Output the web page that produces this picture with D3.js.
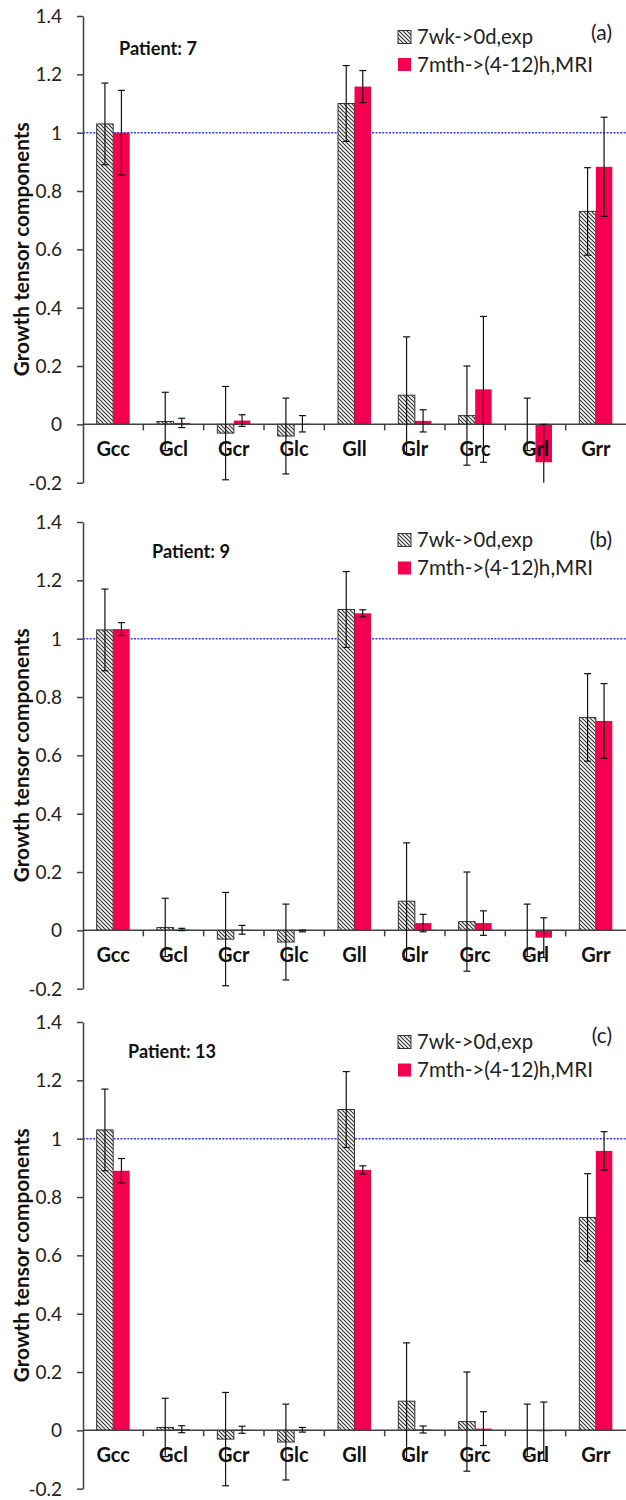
<!DOCTYPE html>
<html><head><meta charset="utf-8">
<script src="https://cdn.jsdelivr.net/npm/d3@7"></script>
<style>body{margin:0;background:#fff}svg{display:block}</style>
</head><body>
<svg id="chart" width="626" height="1500"></svg>
<script>
// ---------- data ----------
const categories = ["Gcc","Gcl","Gcr","Glc","Gll","Glr","Grc","Grl","Grr"];
const seriesNames = ["7wk->0d,exp","7mth->(4-12)h,MRI"];
const expValues = [1.03, 0.01, -0.03, -0.04, 1.10, 0.10, 0.03, 0.0, 0.73];
const expErrors = [0.14, 0.10, 0.16, 0.13, 0.13, 0.20, 0.17, 0.09, 0.15];
const mriValuesA = [1.00, 0.005, 0.013, 0.002, 1.158, 0.012, 0.12, -0.13, 0.883];
const mriErrorsA = [0.145, 0.016, 0.02, 0.028, 0.055, 0.038, 0.25, 0.13, 0.17];
const mriValuesB = [1.033, 0.003, 0.002, -0.002, 1.087, 0.025, 0.025, -0.025, 0.718];
const mriErrorsB = [0.022, 0.004, 0.015, 0.003, 0.012, 0.03, 0.042, 0.068, 0.128];
const mriValuesC = [0.89, 0.004, 0.002, 0.002, 0.893, 0.003, 0.006, -0.003, 0.958];
const mriErrorsC = [0.042, 0.012, 0.012, 0.008, 0.014, 0.012, 0.058, 0.10, 0.066];
const panelTags = ["(a)","(b)","(c)"];
const patientLabels = ["Patient: 7","Patient: 9","Patient: 13"];
const yTickValues = [-0.2, 0, 0.2, 0.4, 0.6, 0.8, 1, 1.2, 1.4];
const yTickLabels = ["-0.2","0","0.2","0.4","0.6","0.8","1","1.2","1.4"];
const referenceValue = 1;
const yTitle = "Growth tensor components";

// ---------- layout ----------
const plotLeft = 83, plotRight = 626, plotH = 466.7;
const panels = [
  {top: 16,   mri: mriValuesA, mriErr: mriErrorsA, patX: 119, patY: 49,   legY: [37, 64.5], tagY: 33},
  {top: 522,  mri: mriValuesB, mriErr: mriErrorsB, patX: 152, patY: 552,  legY: [540, 568], tagY: 540},
  {top: 1022, mri: mriValuesC, mriErr: mriErrorsC, patX: 128, patY: 1052, legY: [1042, 1070], tagY: 1036}
];
const pink = "#f2004f";
const axisColor = "#404040";
const font = "Lato, 'Open Sans', sans-serif";

const svg = d3.select("#chart");
const defs = svg.append("defs");
const pat = defs.append("pattern").attr("id","hatch").attr("patternUnits","userSpaceOnUse")
  .attr("width",4).attr("height",4);
pat.append("rect").attr("width",4).attr("height",4).attr("fill","#fff");
pat.append("path").attr("d","M-1,-1L5,5M-1,3L1,5M3,-1L5,1")
  .attr("stroke","#333").attr("stroke-width",1.15);

function fitWidth(sel, target) {
  const node = sel.node();
  const fs = parseFloat(sel.attr("font-size"));
  const w = node.getComputedTextLength();
  if (w > 0) sel.attr("font-size", (fs * target / w).toFixed(2));
  return sel;
}

const x = d3.scaleBand().domain(categories).range([plotLeft, plotRight]).padding(0);
const bw = 16.5;

panels.forEach((p, pi) => {
  const g = svg.append("g");
  const y = d3.scaleLinear().domain([-0.2, 1.4]).range([p.top + plotH, p.top]);
  const y0 = y(0);

  // y axis
  const yAxis = d3.axisLeft(y).tickValues(yTickValues)
    .tickFormat((d, i) => yTickLabels[i]).tickSize(6).tickSizeOuter(0);
  const ya = g.append("g").attr("transform", `translate(${plotLeft},0)`).call(yAxis);
  ya.select(".domain").attr("stroke", axisColor).attr("stroke-width", 1.5);
  ya.selectAll(".tick line").attr("stroke", axisColor).attr("stroke-width", 1.5);
  ya.selectAll(".tick text").attr("font-family", font).attr("font-size", 19)
    .attr("fill", "#222").attr("x", -21).attr("dy", "0.34em");

  // y title
  const tt = g.append("text").attr("transform", `translate(22,${(y(-0.2)+y(1.4))/2}) rotate(-90)`)
    .attr("text-anchor","middle").attr("dy","0.35em").attr("font-family", font)
    .attr("font-weight","bold").attr("font-size",17).attr("fill","#111").text(yTitle);
  fitWidth(tt, 254);

  // reference line at 1
  g.append("line").attr("x1", plotLeft).attr("x2", plotRight)
    .attr("y1", y(referenceValue)).attr("y2", y(referenceValue))
    .attr("stroke", "#2b3cf5").attr("stroke-width", 1.4).attr("stroke-dasharray", "2 1.4");

  // bars
  const series = [
    {vals: expValues, errs: expErrors, off: -bw, fill: "url(#hatch)", stroke: "#333"},
    {vals: p.mri, errs: p.mriErr, off: 0, fill: pink, stroke: "none"}
  ];
  series.forEach(s => {
    g.append("g").selectAll("rect").data(categories).join("rect")
      .attr("x", (c) => x(c) + x.bandwidth()/2 + s.off)
      .attr("width", bw)
      .attr("y", (c, i) => Math.min(y(s.vals[i]), y0))
      .attr("height", (c, i) => Math.abs(y(s.vals[i]) - y0))
      .attr("fill", s.fill).attr("stroke", s.stroke).attr("stroke-width", 1);
  });

  // x axis line at zero + ticks
  g.append("line").attr("x1", plotLeft).attr("x2", plotRight).attr("y1", y0).attr("y2", y0)
    .attr("stroke", axisColor).attr("stroke-width", 1.5);
  g.append("g").selectAll("line").data(categories.slice(1)).join("line")
    .attr("x1", c => x(c)).attr("x2", c => x(c)).attr("y1", y0).attr("y2", y0 + 6)
    .attr("stroke", axisColor).attr("stroke-width", 1.5);

  // error bars
  series.forEach(s => {
    const eg = g.append("g");
    categories.forEach((c, i) => {
      const cx = x(c) + x.bandwidth()/2 + s.off + bw/2;
      const hiV = s.vals[i] + s.errs[i], loV = s.vals[i] - s.errs[i];
      const hi = y(Math.min(hiV, 1.4)), lo = y(Math.max(loV, -0.2));
      eg.append("line").attr("x1", cx).attr("x2", cx).attr("y1", hi).attr("y2", lo)
        .attr("stroke", "#111").attr("stroke-width", 1.2);
      if (hiV <= 1.4) eg.append("line").attr("x1", cx-3.5).attr("x2", cx+3.5).attr("y1", hi).attr("y2", hi)
        .attr("stroke", "#111").attr("stroke-width", 1.2);
      if (loV >= -0.2) eg.append("line").attr("x1", cx-3.5).attr("x2", cx+3.5).attr("y1", lo).attr("y2", lo)
        .attr("stroke", "#111").attr("stroke-width", 1.2);
    });
  });

  // category labels
  g.append("g").selectAll("text").data(categories).join("text")
    .attr("x", c => x(c) + x.bandwidth()/2).attr("y", y0 + 25).attr("dy", "0.35em")
    .attr("text-anchor", "middle").attr("font-family", font).attr("font-weight", "bold")
    .attr("font-size", 20).attr("fill", "#111").text(c => c);

  // patient label
  const pt = g.append("text").attr("x", p.patX).attr("y", p.patY).attr("dy","0.35em")
    .attr("font-family", font).attr("font-weight","bold").attr("font-size",15).attr("fill","#111")
    .text(patientLabels[pi]);
  fitWidth(pt, pi === 2 ? 88 : 78);

  // legend
  const lg = g.append("g");
  const legW = [116, 176];
  seriesNames.forEach((n, k) => {
    lg.append("rect").attr("x", 398).attr("y", p.legY[k] - 6.5).attr("width", 13).attr("height", 13)
      .attr("fill", k === 0 ? "url(#hatch)" : pink).attr("stroke", k === 0 ? "#333" : "none");
    const t = lg.append("text").attr("x", 417).attr("y", p.legY[k]).attr("dy","0.35em")
      .attr("font-family", font).attr("font-size", 19).attr("fill", "#222").text(n);
    fitWidth(t, legW[k]);
  });

  // panel tag
  g.append("text").attr("x", 612).attr("y", p.tagY).attr("dy","0.35em").attr("text-anchor","end")
    .attr("font-family", font).attr("font-size", 21).attr("fill", "#1a1a30").text(panelTags[pi]);
});
</script>
</body></html>
